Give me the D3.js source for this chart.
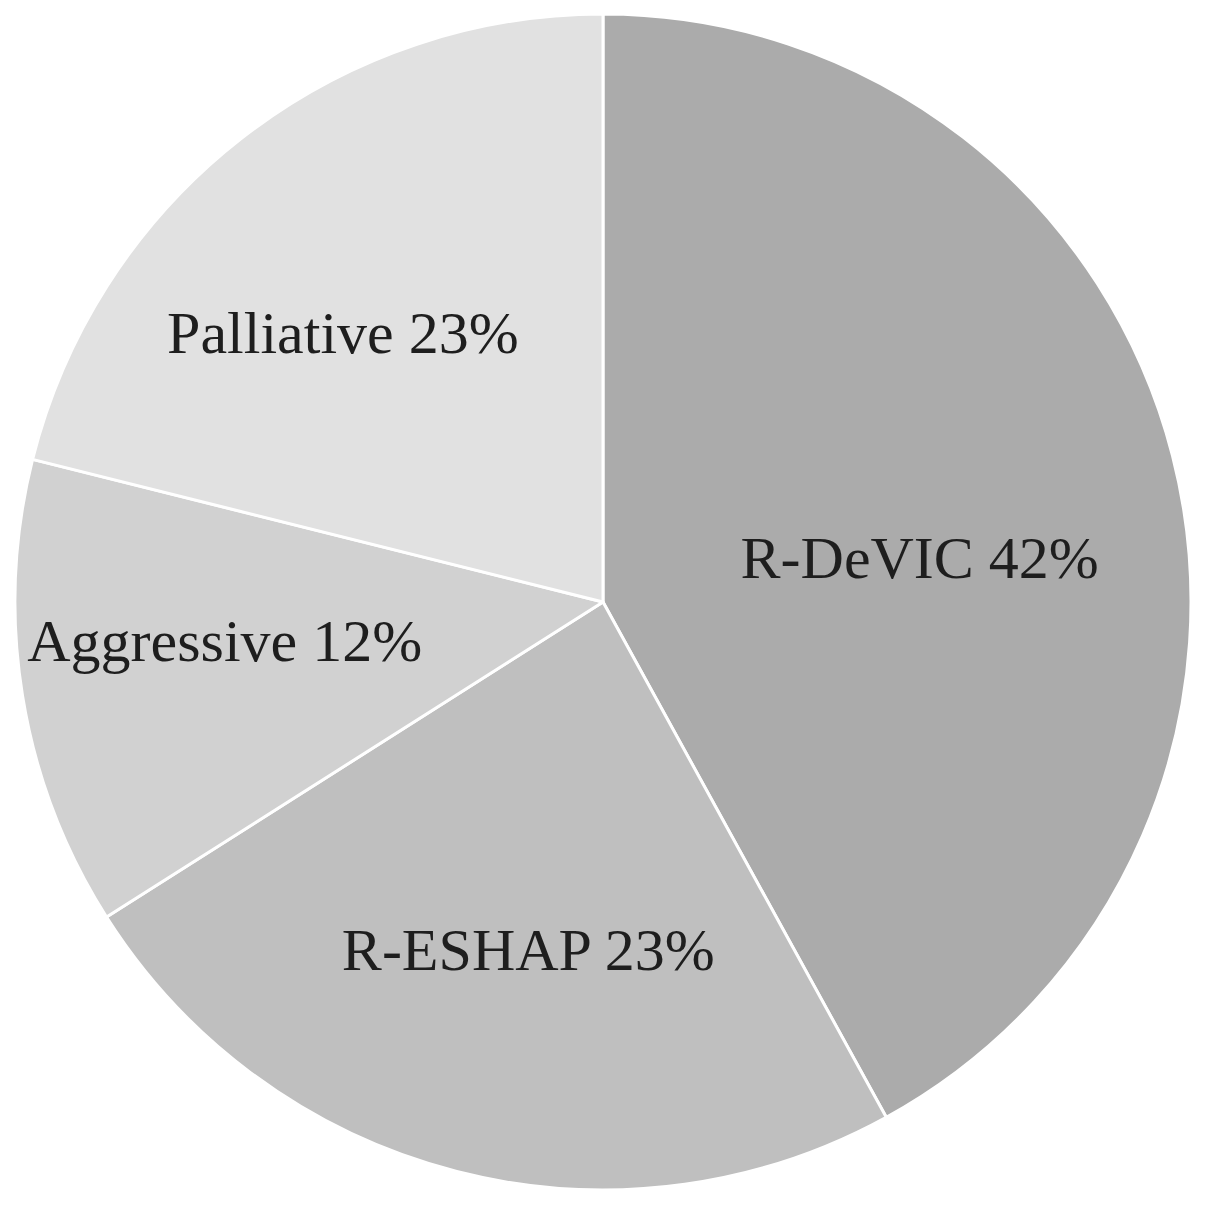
<!DOCTYPE html>
<html>
<head>
<meta charset="utf-8">
<script src="https://cdn.jsdelivr.net/npm/d3@7"></script>
<style>
  body { margin: 0; background: #fff; }
  svg text { font-family: "Liberation Serif", "Times New Roman", serif; }
</style>
</head>
<body>
<svg id="pie" width="1205" height="1206"></svg>
<script>
const categories = ["R-DeVIC", "R-ESHAP", "Aggressive", "Palliative"];
const shares = [42.0, 24.0, 12.9, 21.1];
const pctLabels = ["42%", "23%", "12%", "23%"];
const fills = ["#ababab", "#bfbfbf", "#d1d1d1", "#e1e1e1"];

// small nudges from the centroid to where the labels sit in the figure
const labelNudge = [[-25, 44], [13, 6], [-30, -17], [-43, 9]];

const svg = d3.select("#pie");
const cx = 603, cy = 602, radius = 588;

const data = categories.map((c, i) => ({ name: c, value: shares[i], label: pctLabels[i], i }));

const pie = d3.pie().sort(null).value((d) => d.value);
const arc = d3.arc().innerRadius(0).outerRadius(radius);
const labelArc = d3.arc().innerRadius(radius * 0.6).outerRadius(radius * 0.6);

const g = svg.append("g").attr("transform", `translate(${cx},${cy})`);

const arcs = pie(data);

g.selectAll("path")
  .data(arcs)
  .join("path")
  .attr("d", arc)
  .attr("fill", (d) => fills[d.data.i])
  .attr("stroke", "#fff")
  .attr("stroke-width", 3)
  .attr("stroke-linejoin", "round");

g.selectAll("text")
  .data(arcs)
  .join("text")
  .attr("x", (d) => labelArc.centroid(d)[0] + labelNudge[d.data.i][0])
  .attr("y", (d) => labelArc.centroid(d)[1] + labelNudge[d.data.i][1])
  .attr("text-anchor", "middle")
  .attr("dy", "0.33em")
  .style("font-size", "60px")
  .style("fill", "#1e1e1e")
  .text((d) => `${d.data.name} ${d.data.label}`);
</script>
</body>
</html>
